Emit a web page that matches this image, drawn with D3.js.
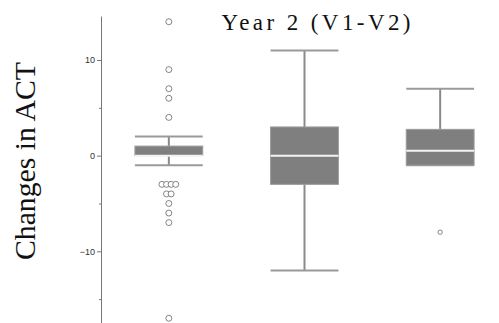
<!DOCTYPE html>
<html>
<head>
<meta charset="utf-8">
<script src="https://cdn.jsdelivr.net/npm/d3@7"></script>
<style>
  html, body { margin: 0; padding: 0; background: #fff; }
  svg { display: block; }
</style>
</head>
<body>
<svg id="chart" width="499" height="323"></svg>
<script>
// Box-plot summaries of the change in ACT score between visits 1 and 2
const groups      = ["Group A", "Group B", "Group C"];
const whiskerLow  = [-1, -12, -1];
const q1          = [0, -3, -1];
const median      = [0, 0, 0.5];
const q3          = [1, 3, 2.75];
const whiskerHigh = [2, 11, 7];
const outliers    = [
  [14, 9, 7, 6, 4, -3, -3, -3, -3, -4, -4, -5, -6, -7, -17],
  [],
  [-8]
];
const yTicks      = [-10, 0, 10];
const yMinorTicks = [-15, -5, 5];
const titleText   = "Year 2 (V1-V2)";
const yLabelText  = "Changes in ACT";

const svg = d3.select("#chart");

const y = d3.scaleLinear().domain([-17.6, 14.6]).range([324, 16]);
const x = d3.scaleBand().domain(groups).range([101, 508])
  .paddingInner(0.5).paddingOuter(0.25);

// y axis: major ticks with labels, minor unlabelled ticks
const axisG = svg.append("g").attr("transform", "translate(101,0)");
axisG.call(d3.axisLeft(y).tickValues(yTicks).tickSize(4).tickPadding(2).tickSizeOuter(0));
axisG.select(".domain").attr("stroke", "#777");
axisG.selectAll(".tick line").attr("stroke", "#777");
axisG.selectAll(".tick text")
  .attr("fill", "#333")
  .style("font-family", "'Liberation Sans', Arial, sans-serif")
  .style("font-size", "9px");
const minorG = svg.append("g").attr("transform", "translate(101,0)");
minorG.call(d3.axisLeft(y).tickValues(yMinorTicks).tickSize(2).tickFormat(""));
minorG.select(".domain").remove();
minorG.selectAll(".tick line").attr("stroke", "#777");

// boxes
const data = groups.map((g, i) => ({
  g, lo: whiskerLow[i], q1: q1[i], med: median[i], q3: q3[i], hi: whiskerHigh[i], out: outliers[i]
}));
const bw = x.bandwidth();

const box = svg.append("g").selectAll("g.box").data(data).join("g").attr("class", "box");

// whisker stems
box.append("line")
  .attr("x1", d => x(d.g) + bw / 2).attr("x2", d => x(d.g) + bw / 2)
  .attr("y1", d => y(d.hi)).attr("y2", d => y(d.q3))
  .attr("stroke", "#8a8a8a").attr("stroke-width", 2);
box.append("line")
  .attr("x1", d => x(d.g) + bw / 2).attr("x2", d => x(d.g) + bw / 2)
  .attr("y1", d => y(d.q1)).attr("y2", d => y(d.lo))
  .attr("stroke", "#8a8a8a").attr("stroke-width", 2);

// whisker caps
["hi", "lo"].forEach(k => {
  box.append("line")
    .attr("x1", d => x(d.g)).attr("x2", d => x(d.g) + bw)
    .attr("y1", d => y(d[k])).attr("y2", d => y(d[k]))
    .attr("stroke", "#9a9a9a").attr("stroke-width", 2);
});

// interquartile box
box.append("rect")
  .attr("x", d => x(d.g)).attr("width", bw)
  .attr("y", d => y(d.q3)).attr("height", d => y(d.q1) - y(d.q3))
  .attr("fill", "#7f7f7f").attr("stroke", "#9c9c9c").attr("stroke-width", 1);

// median
box.append("line")
  .attr("x1", d => x(d.g)).attr("x2", d => x(d.g) + bw)
  .attr("y1", d => y(d.med)).attr("y2", d => y(d.med))
  .attr("stroke", "#f4f4f4").attr("stroke-width", 2);

// outliers: repeated values are spread side by side
box.each(function (d) {
  const counts = d3.rollup(d.out, v => v.length, v => v);
  const seen = new Map();
  const pts = d.out.map(v => {
    const n = counts.get(v);
    const k = seen.get(v) || 0;
    seen.set(v, k + 1);
    return { v, off: (k - (n - 1) / 2) * 4.6 };
  });
  const r = d.out.length > 1 ? 3 : 2.2;
  d3.select(this).selectAll("circle").data(pts).join("circle")
    .attr("cx", p => x(d.g) + bw / 2 + p.off)
    .attr("cy", p => y(p.v))
    .attr("r", r)
    .attr("fill", "#fff").attr("stroke", "#777").attr("stroke-width", 0.9);
});

// title
svg.append("text")
  .attr("x", 221.5).attr("y", 29.5)
  .attr("textLength", 189).attr("lengthAdjust", "spacing")
  .style("font-family", "'Liberation Serif', 'Times New Roman', serif")
  .style("font-size", "23px")
  .attr("fill", "#111")
  .text(titleText);

// y-axis label
svg.append("text")
  .attr("transform", "translate(35,161) rotate(-90)")
  .attr("text-anchor", "middle")
  .attr("textLength", 198).attr("lengthAdjust", "spacingAndGlyphs")
  .style("font-family", "'Liberation Serif', 'Times New Roman', serif")
  .style("font-size", "30px")
  .attr("fill", "#111")
  .text(yLabelText);
</script>
</body>
</html>
